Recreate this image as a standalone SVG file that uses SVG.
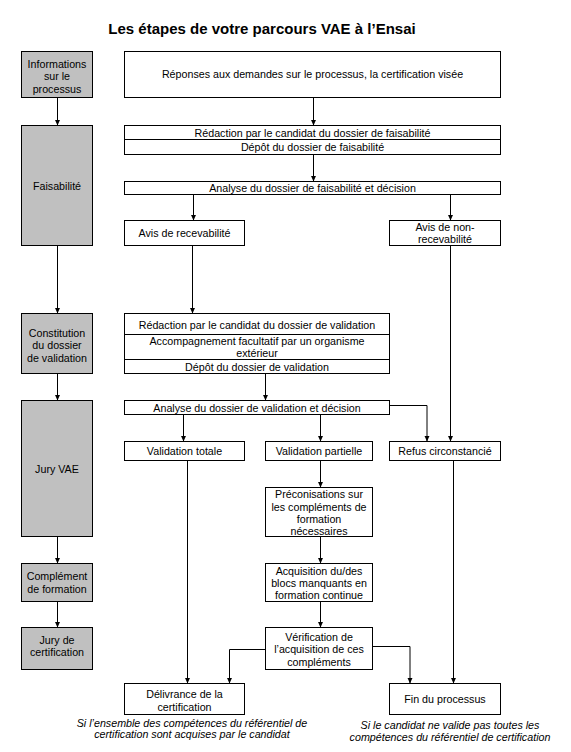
<svg xmlns="http://www.w3.org/2000/svg" width="571" height="752" viewBox="0 0 571 752">
<style>
text{font-family:"Liberation Sans",Arial,sans-serif;font-size:10.7px;fill:#000;text-anchor:middle}
.title{font-size:15px;font-weight:bold}
.cap{font-style:italic}
.g{fill:#c0c0c0;stroke:#000;stroke-width:1}
.b{fill:#fff;stroke:#000;stroke-width:1}
.c{fill:none;stroke:#000;stroke-width:1;marker-end:url(#ah)}
</style>
<defs>
<marker id="ah" viewBox="0 0 6 6" refX="6" refY="3" markerWidth="6" markerHeight="6" orient="auto" markerUnits="userSpaceOnUse">
<path d="M0,0.3 L6,3 L0,5.7 z" fill="#000"/>
</marker>
</defs>
<rect width="571" height="752" fill="#fff"/>
<text class="title" x="262" y="34">Les étapes de votre parcours VAE à l’Ensai</text>

<g id="connectors">
<path class="c" d="M57.5,97.5 V125.5"/>
<path class="c" d="M313.5,97.5 V125.5"/>
<path class="c" d="M313.5,154.5 V181.5"/>
<path class="c" d="M193.5,194.5 V220.5"/>
<path class="c" d="M450.5,194.5 V220.5"/>
<path class="c" d="M57.5,245.5 V313.5"/>
<path class="c" d="M192.5,245.5 V313.5"/>
<path class="c" d="M450.5,245.5 V441.5"/>
<path class="c" d="M57.5,373.5 V400.5"/>
<path class="c" d="M265.5,373.5 V400.5"/>
<path class="c" d="M183.5,414.5 V441.5"/>
<path class="c" d="M320.5,414.5 V441.5"/>
<path class="c" d="M389.5,405.5 H427 V441.5"/>
<path class="c" d="M187.5,460.5 V683.5"/>
<path class="c" d="M320.5,460.5 V487.5"/>
<path class="c" d="M453.5,460.5 V683.5"/>
<path class="c" d="M57.5,536.5 V563.5"/>
<path class="c" d="M320.5,536.5 V563.5"/>
<path class="c" d="M57.5,601.5 V627.5"/>
<path class="c" d="M320.5,601.5 V627.5"/>
<path class="c" d="M265.5,649.5 H229.5 V683.5"/>
<path class="c" d="M372.5,646.5 H410 V683.5"/>
</g>

<g id="n-info">
<rect class="g" x="21.5" y="51.5" width="71" height="46"/>
<text x="57" y="67.5">Informations</text>
<text x="57" y="80">sur le</text>
<text x="57" y="92.5">processus</text>
</g>
<g id="n-reponses">
<rect class="b" x="124.5" y="51.5" width="376" height="46"/>
<text x="312.5" y="78">Réponses aux demandes sur le processus, la certification visée</text>
</g>

<g id="n-faisabilite">
<rect class="g" x="21.5" y="125.5" width="71" height="120"/>
<text x="57" y="189.5">Faisabilité</text>
</g>
<g id="n-redaction-f">
<rect class="b" x="124.5" y="125.5" width="376" height="14"/>
<text x="312.5" y="136.5">Rédaction par le candidat du dossier de faisabilité</text>
</g>
<g id="n-depot-f">
<rect class="b" x="124.5" y="139.5" width="376" height="15"/>
<text x="312.5" y="150.5">Dépôt du dossier de faisabilité</text>
</g>
<g id="n-analyse-f">
<rect class="b" x="124.5" y="181.5" width="376" height="13"/>
<text x="312.5" y="192">Analyse du dossier de faisabilité et décision</text>
</g>
<g id="n-recev">
<rect class="b" x="124.5" y="220.5" width="120" height="25"/>
<text x="184.5" y="236.5">Avis de recevabilité</text>
</g>
<g id="n-nonrecev">
<rect class="b" x="389.5" y="220.5" width="111" height="25"/>
<text x="445" y="230.5">Avis de non-</text>
<text x="445" y="243">recevabilité</text>
</g>

<g id="n-constitution">
<rect class="g" x="21.5" y="313.5" width="71" height="60"/>
<text x="57" y="336.5">Constitution</text>
<text x="57" y="349">du dossier</text>
<text x="57" y="361.5">de validation</text>
</g>
<g id="n-redaction-v">
<rect class="b" x="124.5" y="313.5" width="265" height="21"/>
<text x="257" y="328.5">Rédaction par le candidat du dossier de validation</text>
</g>
<g id="n-accomp">
<rect class="b" x="124.5" y="334.5" width="265" height="25"/>
<text x="257" y="344.5">Accompagnement facultatif par un organisme</text>
<text x="257" y="356.5">extérieur</text>
</g>
<g id="n-depot-v">
<rect class="b" x="124.5" y="359.5" width="265" height="14"/>
<text x="257" y="370.5">Dépôt du dossier de validation</text>
</g>

<g id="n-juryvae">
<rect class="g" x="21.5" y="400.5" width="71" height="136"/>
<text x="57" y="472.5">Jury VAE</text>
</g>
<g id="n-analyse-v">
<rect class="b" x="124.5" y="400.5" width="265" height="14"/>
<text x="257" y="411.5">Analyse du dossier de validation et décision</text>
</g>
<g id="n-vtotale">
<rect class="b" x="124.5" y="441.5" width="120" height="19"/>
<text x="184.5" y="455">Validation totale</text>
</g>
<g id="n-vpartielle">
<rect class="b" x="265.5" y="441.5" width="107" height="19"/>
<text x="319" y="455">Validation partielle</text>
</g>
<g id="n-refus">
<rect class="b" x="389.5" y="441.5" width="111" height="19"/>
<text x="445" y="455">Refus circonstancié</text>
</g>
<g id="n-precon">
<rect class="b" x="265.5" y="487.5" width="107" height="49"/>
<text x="319" y="498">Préconisations sur</text>
<text x="319" y="510.5">les compléments de</text>
<text x="319" y="523">formation</text>
<text x="319" y="535">nécessaires</text>
</g>

<g id="n-complement">
<rect class="g" x="21.5" y="563.5" width="71" height="38"/>
<text x="57" y="580">Complément</text>
<text x="57" y="592.5">de formation</text>
</g>
<g id="n-acquisition">
<rect class="b" x="265.5" y="563.5" width="107" height="38"/>
<text x="319" y="574.5">Acquisition du/des</text>
<text x="319" y="587">blocs manquants en</text>
<text x="319" y="599">formation continue</text>
</g>

<g id="n-jurycert">
<rect class="g" x="21.5" y="627.5" width="71" height="42"/>
<text x="57" y="643.5">Jury de</text>
<text x="57" y="656">certification</text>
</g>
<g id="n-verif">
<rect class="b" x="265.5" y="627.5" width="107" height="42"/>
<text x="319" y="640.5">Vérification de</text>
<text x="319" y="653">l’acquisition de ces</text>
<text x="319" y="665.5">compléments</text>
</g>

<g id="n-delivrance">
<rect class="b" x="124.5" y="683.5" width="120" height="31"/>
<text x="184.5" y="698">Délivrance de la</text>
<text x="184.5" y="710.5">certification</text>
</g>
<g id="n-fin">
<rect class="b" x="389.5" y="683.5" width="111" height="31"/>
<text x="445" y="702.5">Fin du processus</text>
</g>

<g id="captions">
<text class="cap" x="192" y="726.5">Si l’ensemble des compétences du référentiel de</text>
<text class="cap" x="192" y="738">certification sont acquises par le candidat</text>
<text class="cap" x="450" y="728.5">Si le candidat ne valide pas toutes les</text>
<text class="cap" x="450" y="740.5">compétences du référentiel de certification</text>
</g>
</svg>
